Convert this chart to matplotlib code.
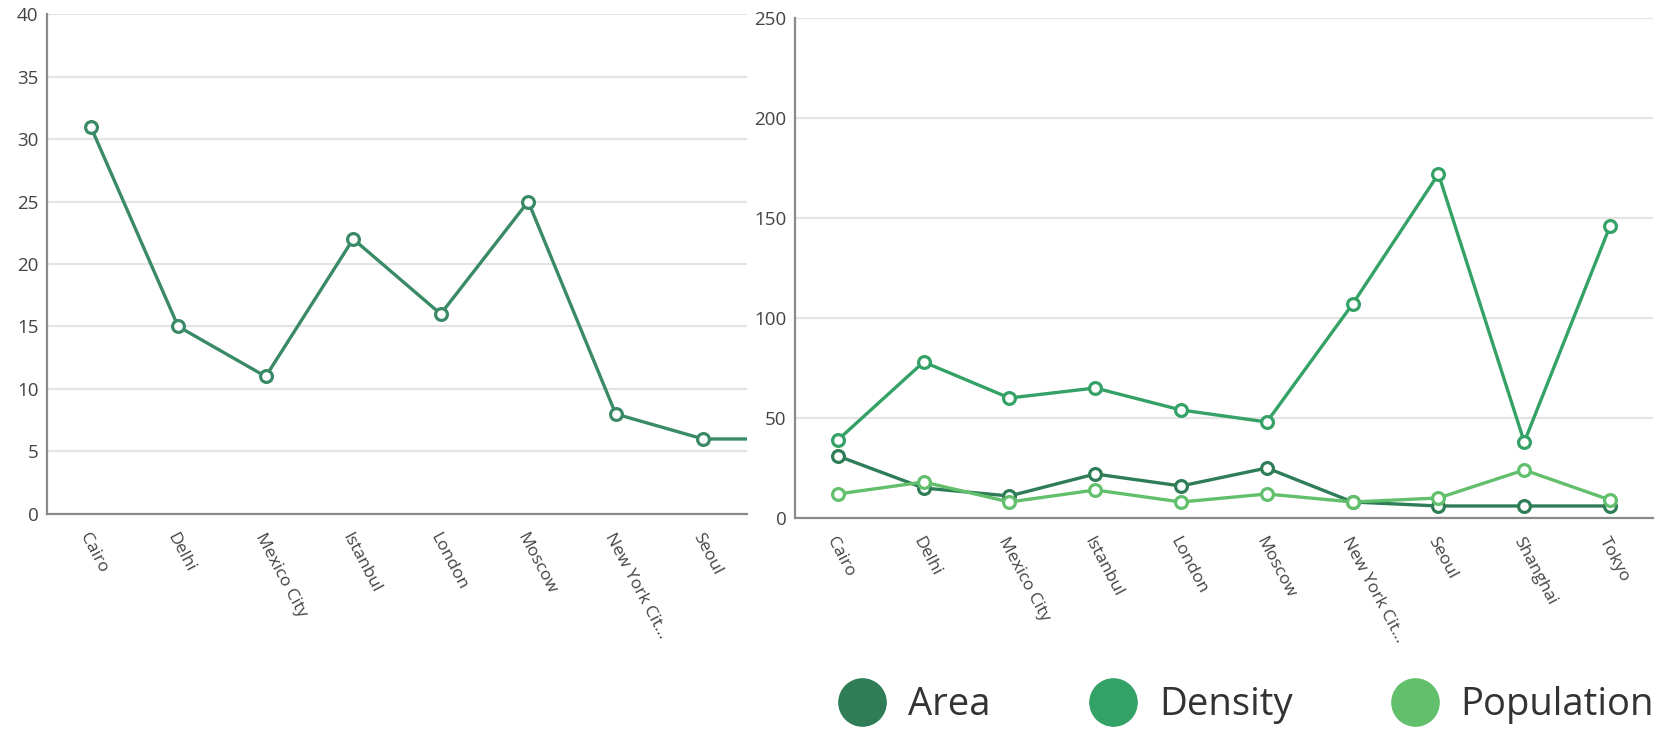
import matplotlib
matplotlib.use("Agg")
import matplotlib.pyplot as plt
from matplotlib.lines import Line2D

plt.rcParams['font.family'] = ['Open Sans', 'DejaVu Sans']

cities = ["Cairo", "Delhi", "Mexico City", "Istanbul", "London", "Moscow",
          "New York Cit...", "Seoul", "Shanghai", "Tokyo"]
area = [31, 15, 11, 22, 16, 25, 8, 6, 6, 6]
density = [39, 78, 60, 65, 54, 48, 107, 172, 38, 146]
population = [12, 18, 8, 14, 8, 12, 8, 10, 24, 9]

left_ticks = [0, 5, 10, 15, 20, 25, 30, 35, 40]
right_ticks = [0, 50, 100, 150, 200, 250]

c_area = "#2e7d57"
c_density = "#34a266"
c_pop = "#62bf6b"
c_single = "#3a8a66"

fig = plt.figure(figsize=(16.7, 7.31), dpi=100)
ax1 = fig.add_axes([0.0281, 0.2969, 0.4192, 0.6839])
ax2 = fig.add_axes([0.4760, 0.2914, 0.5138, 0.6840])


def style(ax, ticks, n):
    ax.set_ylim(ticks[0], ticks[-1])
    ax.set_yticks(ticks)
    ax.set_xticks(range(n))
    ax.set_xticklabels(cities[:n], rotation=-62, ha='left', va='top',
                       rotation_mode='anchor', fontsize=12.5, color='#444444')
    ax.tick_params(axis='x', length=0, pad=12)
    ax.tick_params(axis='y', length=0, pad=6, labelsize=13.5, labelcolor='#444444')
    for s in ['top', 'right']:
        ax.spines[s].set_visible(False)
    for s in ['left', 'bottom']:
        ax.spines[s].set_color('#8a8a8a')
        ax.spines[s].set_linewidth(1.6)
    ax.grid(axis='y', color='#e4e4e4', linewidth=1.6)
    ax.set_axisbelow(True)


def draw(ax, y, color):
    ax.plot(range(len(y)), y, color=color, linewidth=2.4, marker='o',
            markersize=8.5, markerfacecolor='white', markeredgecolor=color,
            markeredgewidth=2.3, clip_on=True, zorder=3)


# left chart: only area, clipped to first eight cities
draw(ax1, area, c_single)
style(ax1, left_ticks, 8)
ax1.set_xlim(-0.5, 7.5)

# right chart: all three series
draw(ax2, area, c_area)
draw(ax2, density, c_density)
draw(ax2, population, c_pop)
style(ax2, right_ticks, len(cities))
ax2.set_xlim(-0.5, len(cities) - 0.5)

handles = [Line2D([], [], linestyle='none', marker='o', markersize=34, color=c)
           for c in [c_area, c_density, c_pop]]
fig.legend(handles, ["Area", "Density", "Population"], loc='center',
           bbox_to_anchor=(0.742, 0.035), ncol=3, frameon=False,
           fontsize=27.5, handletextpad=0.2, columnspacing=2.2, labelcolor='#333333')

fig.savefig("out.png", dpi=100)
